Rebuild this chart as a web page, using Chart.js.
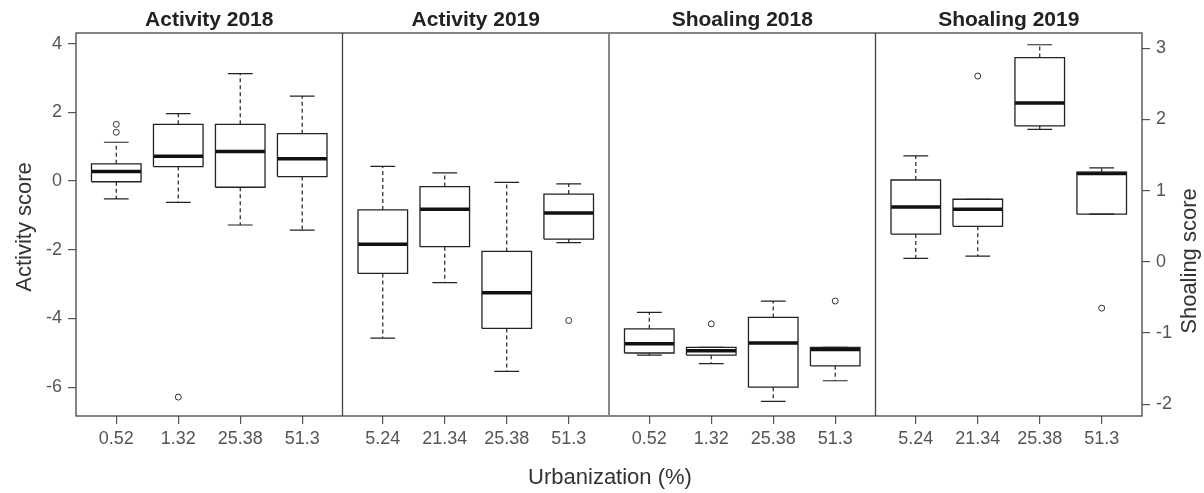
<!DOCTYPE html>
<html>
<head>
<meta charset="utf-8">
<script src="https://cdn.jsdelivr.net/npm/chart.js@4.4.1/dist/chart.umd.min.js"></script>
<style>
  html, body { margin: 0; padding: 0; background: #fff; }
  #wrap { width: 1204px; height: 493px; }
</style>
</head>
<body>
<div id="wrap"><canvas id="chart" width="1204" height="493"></canvas></div>
<script>
// Panel titles and x tick labels (urbanization %)
const panelTitles = ['Activity 2018', 'Activity 2019', 'Shoaling 2018', 'Shoaling 2019'];
const urban2018 = ['0.52', '1.32', '25.38', '51.3'];
const urban2019 = ['5.24', '21.34', '25.38', '51.3'];

// box stats: [lower whisker, Q1, median, Q3, upper whisker]
const activity2018 = [
  [-0.52, -0.02, 0.28, 0.50, 1.13],
  [-0.62, 0.42, 0.72, 1.65, 1.96],
  [-1.28, -0.18, 0.86, 1.65, 3.13],
  [-1.43, 0.13, 0.65, 1.38, 2.47]
];
const activity2018Out = [[1.42, 1.65], [-6.29], [], []];

const activity2019 = [
  [-4.57, -2.69, -1.84, -0.84, 0.43],
  [-2.96, -1.91, -0.82, -0.16, 0.24],
  [-5.54, -4.29, -3.25, -2.05, -0.04],
  [-1.79, -1.69, -0.93, -0.38, -0.08]
];
const activity2019Out = [[], [], [], [-4.06]];

const shoaling2018 = [
  [-1.31, -1.28, -1.15, -0.94, -0.71],
  [-1.43, -1.31, -1.25, -1.20, -1.20],
  [-1.96, -1.76, -1.14, -0.78, -0.55],
  [-1.67, -1.46, -1.23, -1.20, -1.20]
];
const shoaling2018Out = [[], [-0.87], [], [-0.55]];

const shoaling2019 = [
  [0.05, 0.39, 0.77, 1.15, 1.49],
  [0.08, 0.50, 0.74, 0.88, 0.88],
  [1.86, 1.91, 2.23, 2.87, 3.05],
  [0.67, 0.67, 1.24, 1.26, 1.32]
];
const shoaling2019Out = [[], [2.61], [], [-0.65]];

const activityTicks = [-6, -4, -2, 0, 2, 4];
const shoalingTicks = [-2, -1, 0, 1, 2, 3];

const GAP = 4.3;      // panel width in x units
const HALF = 0.4;     // half box width
const CAP = 0.2;      // half staple width
const ink = '#222';

const panels = [
  { stats: activity2018, out: activity2018Out, labels: urban2018, axis: 'y' },
  { stats: activity2019, out: activity2019Out, labels: urban2019, axis: 'y' },
  { stats: shoaling2018, out: shoaling2018Out, labels: urban2018, axis: 'y2' },
  { stats: shoaling2019, out: shoaling2019Out, labels: urban2019, axis: 'y2' }
];

const tickPos = [];
const tickLabels = [];
const groups = {};

panels.forEach((p, pi) => {
  if (!groups[p.axis]) {
    groups[p.axis] = { box: [], med: [], whisk: [], cap: [], out: [] };
  }
  const g = groups[p.axis];
  p.stats.forEach((s, i) => {
    const x = pi * GAP + i + 1;
    const [lo, q1, med, q3, hi] = s;
    tickPos.push(x);
    tickLabels.push(p.labels[i]);
    g.box.push({x: x - HALF, y: q1}, {x: x + HALF, y: q1}, {x: x + HALF, y: q3},
               {x: x - HALF, y: q3}, {x: x - HALF, y: q1}, {x: x, y: null});
    g.med.push({x: x - HALF, y: med}, {x: x + HALF, y: med}, {x: x, y: null});
    if (hi > q3) g.whisk.push({x: x, y: q3}, {x: x, y: hi}, {x: x, y: null});
    if (lo < q1) g.whisk.push({x: x, y: q1}, {x: x, y: lo}, {x: x, y: null});
    g.cap.push({x: x - CAP, y: hi}, {x: x + CAP, y: hi}, {x: x, y: null});
    g.cap.push({x: x - CAP, y: lo}, {x: x + CAP, y: lo}, {x: x, y: null});
    p.out[i].forEach(v => g.out.push({x: x, y: v}));
  });
});

const datasets = [];
Object.keys(groups).forEach(axis => {
  const g = groups[axis];
  const line = { type: 'line', yAxisID: axis, pointRadius: 0, fill: false, tension: 0, spanGaps: false };
  datasets.push(Object.assign({}, line, { data: g.whisk, borderColor: ink, borderWidth: 1.2, borderDash: [4, 3] }));
  datasets.push(Object.assign({}, line, { data: g.cap, borderColor: ink, borderWidth: 1.2 }));
  datasets.push(Object.assign({}, line, { data: g.box, borderColor: ink, borderWidth: 1.3 }));
  datasets.push(Object.assign({}, line, { data: g.med, borderColor: '#111', borderWidth: 3.5, borderCapStyle: 'butt' }));
  datasets.push({
    type: 'scatter', yAxisID: axis, data: g.out,
    pointStyle: 'circle', pointRadius: 3, backgroundColor: '#fff', borderColor: '#333', borderWidth: 1
  });
});

// frame, panel dividers, titles
const framePlugin = {
  id: 'frame',
  afterDraw(chart) {
    const ctx = chart.ctx;
    const a = chart.chartArea;
    const xs = chart.scales.x;
    ctx.save();
    ctx.strokeStyle = '#444';
    ctx.lineWidth = 1.3;
    ctx.strokeRect(a.left, a.top, a.right - a.left, a.bottom - a.top);
    for (let p = 1; p < 4; p++) {
      const px = xs.getPixelForValue(p * GAP + 0.35);
      ctx.strokeStyle = p === 2 ? '#888' : '#444';
      ctx.lineWidth = p === 2 ? 2 : 1.3;
      ctx.beginPath();
      ctx.moveTo(px, a.top);
      ctx.lineTo(px, a.bottom);
      ctx.stroke();
    }
    ctx.fillStyle = '#222';
    ctx.textAlign = 'center';
    ctx.textBaseline = 'middle';
    ctx.font = 'bold 21px "Liberation Sans", Arial, sans-serif';
    panelTitles.forEach((t, p) => {
      ctx.fillText(t, xs.getPixelForValue(p * GAP + 2.5), 20);
    });
    ctx.fillStyle = '#333';
    ctx.font = '22px "Liberation Sans", Arial, sans-serif';
    ctx.fillText('Urbanization (%)', (a.left + a.right) / 2 + 1, 478);
    ctx.save();
    ctx.translate(25, 227);
    ctx.rotate(-Math.PI / 2);
    ctx.fillText('Activity score', 0, 0);
    ctx.restore();
    ctx.save();
    ctx.translate(1190, 261);
    ctx.rotate(-Math.PI / 2);
    ctx.fillText('Shoaling score', 0, 0);
    ctx.restore();
    ctx.restore();
  }
};

const tickFont = { family: '"Liberation Sans", Arial, sans-serif', size: 18 };
const gridOpts = { drawOnChartArea: false, drawTicks: true, tickLength: 8, color: '#555', lineWidth: 1.2 };

new Chart(document.getElementById('chart'), {
  type: 'scatter',
  data: { datasets: datasets },
  options: {
    responsive: false,
    devicePixelRatio: 1,
    animation: false,
    events: [],
    layout: { padding: { top: 33, left: 0, right: 0, bottom: 0 } },
    plugins: { legend: { display: false }, tooltip: { enabled: false } },
    scales: {
      x: {
        type: 'linear', min: 0.35, max: 4 * GAP + 0.35,
        afterBuildTicks: s => { s.ticks = tickPos.map(v => ({ value: v })); },
        afterFit: s => { s.height = 77; },
        ticks: { autoSkip: false, maxRotation: 0, padding: 4, color: '#555', font: tickFont,
                 callback: (v, i) => tickLabels[i] },
        grid: gridOpts,
        border: { display: false }
      },
      y: {
        type: 'linear', position: 'left', min: -6.84, max: 4.31,
        afterBuildTicks: s => { s.ticks = activityTicks.map(v => ({ value: v })); },
        afterFit: s => { s.width = 76; },
        ticks: { padding: 6, color: '#555', font: tickFont },
        grid: gridOpts,
        border: { display: false }
      },
      y2: {
        type: 'linear', position: 'right', min: -2.165, max: 3.215,
        afterBuildTicks: s => { s.ticks = shoalingTicks.map(v => ({ value: v })); },
        afterFit: s => { s.width = 62; },
        ticks: { padding: 6, color: '#555', font: tickFont },
        grid: gridOpts,
        border: { display: false }
      }
    }
  },
  plugins: [framePlugin]
});
</script>
</body>
</html>
